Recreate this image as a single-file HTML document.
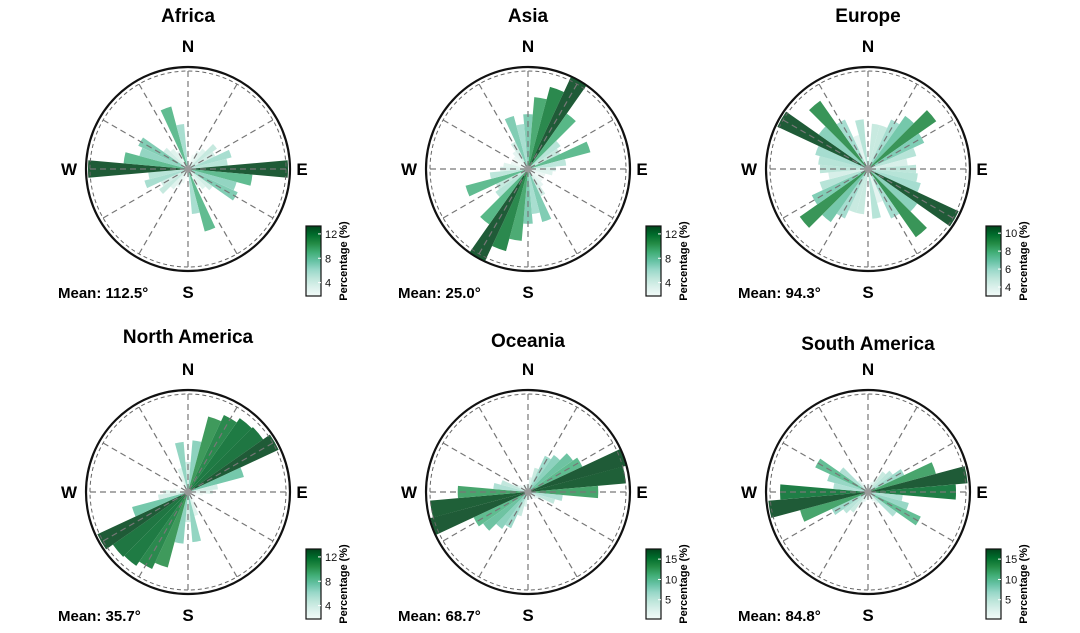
<!DOCTYPE html>
<html><head><meta charset="utf-8">
<style>
html,body{margin:0;padding:0;background:#fff;}
svg{display:block;font-family:"Liberation Sans",Arial,sans-serif;}
</style></head>
<body>
<svg id="chart" width="1080" height="633" viewBox="0 0 1080 633"></svg>
<script>
// bin centers (degrees, axial 0-170, mirrored at +180)
const binAngles = [0,10,20,30,40,50,60,70,80,90,100,110,120,130,140,150,160,170];
const regionNames = ["Africa","Asia","Europe","North America","Oceania","South America"];
const meanLabels = ["Mean: 112.5°","Mean: 25.0°","Mean: 94.3°","Mean: 35.7°","Mean: 68.7°","Mean: 84.8°"];
const africaValues = [1.1,1.3,2.0,2.7,3.3,4.7,4.0,6.0,5.3,13.3,8.6,6.7,7.3,4.0,3.3,2.7,8.6,6.0];
const asiaValues = [7.3,9.6,11.3,13.5,9.0,5.3,4.7,8.6,5.1,3.7,3.3,2.4,2.0,2.4,2.9,4.0,7.3,6.0];
const europeValues = [1.3,4.9,4.9,5.9,7.0,9.0,6.7,5.4,4.3,5.2,5.4,5.9,10.8,6.5,9.0,5.9,3.8,5.4];
const northAmericaValues = [4.0,6.9,10.4,11.3,12.0,12.2,13.3,7.7,4.0,3.3,2.0,1.3,1.1,1.1,1.3,2.0,3.3,6.7];
const oceaniaValues = [1.4,2.6,4.4,7.0,7.9,9.6,10.5,17.7,17.2,12.3,6.1,4.9,2.6,1.8,1.4,1.4,1.4,1.4];
const southAmericaValues = [0.9,1.4,1.8,2.6,4.4,5.3,7.0,12.3,17.5,15.4,6.1,7.4,10.2,6.1,2.6,1.8,1.4,0.9];
const colorMin = [1.8,1.8,3.0,1.8,0.25,0.25];
const colorMax = [13.3,13.3,10.8,13.3,17.5,17.5];
const tickLabels = [[4,8,12],[4,8,12],[4,6,8,10],[4,8,12],[5,10,15],[5,10,15]];

const allValues=[africaValues,asiaValues,europeValues,northAmericaValues,oceaniaValues,southAmericaValues];
const centers=[[188,169],[528,169],[868,169],[188,492],[528,492],[868,492]];
const titleY=[22,22,22,343,347,350];
const R=102, RIN=98, RSCALE=100;
const NS="http://www.w3.org/2000/svg";
const svg=document.getElementById('chart');
function mk(tag,attrs,parent){const e=document.createElementNS(NS,tag);for(const k in attrs)e.setAttribute(k,attrs[k]);(parent||svg).appendChild(e);return e;}
const stops=["#f2faf8","#dcf1ec","#bfe6db","#99d8c9","#66c2a4","#41ae76","#238b45","#006d2c","#00441b"];
function hex(c){return [1,3,5].map(i=>parseInt(c.substr(i,2),16));}
function cmap(t){t=Math.max(0,Math.min(1,t));const p=t*(stops.length-1);const i=Math.min(stops.length-2,Math.floor(p));const f=p-i;const a=hex(stops[i]),b=hex(stops[i+1]);return "rgb("+a.map((v,k)=>Math.round(v+(b[k]-v)*f)).join(",")+")";}
function pt(cx,cy,deg,r){const a=deg*Math.PI/180;return [cx+r*Math.sin(a),cy-r*Math.cos(a)];}

const defs=mk('defs',{});
const lg=mk('linearGradient',{id:'cbgrad',x1:0,y1:1,x2:0,y2:0},defs);
stops.forEach((c,i)=>mk('stop',{offset:(i/(stops.length-1)),'stop-color':c},lg));

regionNames.forEach((name,pi)=>{
  const [cx,cy]=centers[pi];
  const g=mk('g',{});
  
  
  const title=mk('text',{x:cx,y:titleY[pi],'text-anchor':'middle','font-size':19,'font-weight':'bold',fill:'#000'},g);
  title.textContent=name;
  
  
  const outer=mk('circle',{cx:cx,cy:cy,r:R,fill:'#fff',stroke:'#111','stroke-width':2.2},g);
  
  
  const vals=allValues[pi];
  const cmin=colorMin[pi],cmax=colorMax[pi];
  binAngles.forEach((ang,i)=>{
    const v=vals[i];
    const r=v/cmax*RSCALE;
    [ang,ang+180].forEach(a=>{
      const p1=pt(cx,cy,a-5,r),p2=pt(cx,cy,a+5,r);
      const w=mk('path',{d:`M${cx},${cy}L${p1[0].toFixed(2)},${p1[1].toFixed(2)}A${r},${r} 0 0 1 ${p2[0].toFixed(2)},${p2[1].toFixed(2)}Z`,fill:cmap((v-cmin)/(cmax-cmin)),'fill-opacity':0.88},g);
      
      
    });
  });
  mk('circle',{cx:cx,cy:cy,r:RIN,fill:'none',stroke:'#666','stroke-width':1,'stroke-dasharray':'4,3'},g);
  for(let a=0;a<180;a+=30){
    const p1=pt(cx,cy,a,RIN),p2=pt(cx,cy,a+180,RIN);
    const gl=mk('line',{x1:p1[0],y1:p1[1],x2:p2[0],y2:p2[1],stroke:'#777','stroke-width':1.2,'stroke-dasharray':'6,4'},g);
    
    
  }
  mk('circle',{cx:cx,cy:cy,r:3.5,fill:'#999'},g);
  const lab=[["N",cx,cy-117],["S",cx,cy+129],["W",cx-119,cy+6],["E",cx+114,cy+6]];
  lab.forEach(l=>{const t=mk('text',{x:l[1],y:l[2],'text-anchor':'middle','font-size':17,'font-weight':'bold',fill:'#000'},g);t.textContent=l[0];
    
    });
  const m=mk('text',{x:cx-130,y:cy+129,'font-size':15,'font-weight':'bold',fill:'#000'},g);
  m.textContent=meanLabels[pi];
  
  
  const bx=cx+118,by=cy+57,bw=15,bh=70;
  const cb=mk('rect',{x:bx,y:by,width:bw,height:bh,fill:'url(#cbgrad)',stroke:'#111','stroke-width':1.2},g);
  
  
  tickLabels[pi].forEach(tv=>{
    const y=by+bh-(tv-cmin)/(cmax-cmin)*bh;
    mk('line',{x1:bx+bw-3,y1:y,x2:bx+bw,y2:y,stroke:'#fff','stroke-width':1},g);
    const t=mk('text',{x:bx+bw+4,y:y+4,'font-size':11,fill:'#111'},g);
    t.textContent=tv;
    
    
  });
  const lx=bx+bw+23+(tickLabels[pi][tickLabels[pi].length-1]>=10?3:0), ly=by+bh/2;
  const pl=mk('text',{x:lx,y:ly,'text-anchor':'middle','font-size':11,'font-weight':'bold',fill:'#000',transform:`rotate(-90 ${lx} ${ly})`},g);
  pl.textContent="Percentage (%)";
  
  
});
</script>
</body></html>
